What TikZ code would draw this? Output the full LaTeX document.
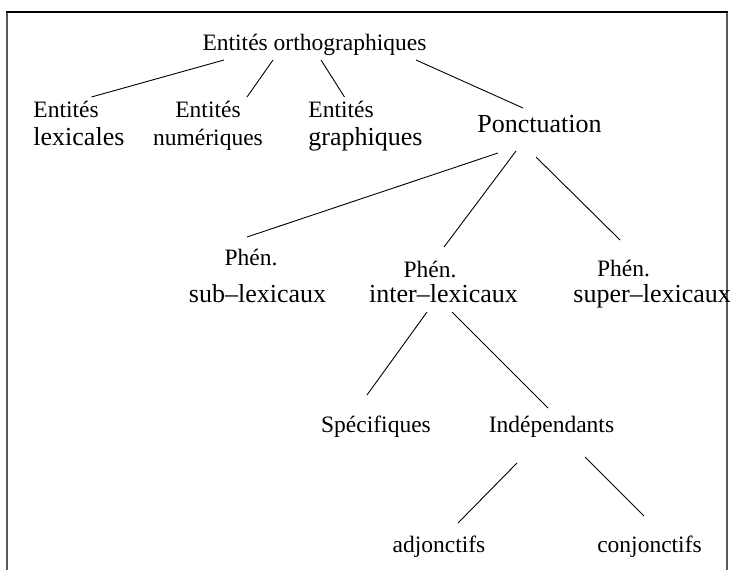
\documentclass[tikz,border=0pt]{standalone}
\usepackage{fontspec}
\setmainfont{Liberation Serif}
\newcommand{\tsm}{\fontsize{23.5}{28}\selectfont}
\newcommand{\tlg}{\fontsize{26}{31}\selectfont}
\tikzset{lbl/.style={inner sep=0pt,anchor=base}}

\begin{document}
\begin{tikzpicture}[x=1pt,y=-1pt,line width=0.9pt]
   \useasboundingbox (0,0) rectangle (731,570);
   \draw[line width=1.8pt,black!65] (7,570) -- (7,12.6);
   \draw[line width=1.8pt,black!65] (727,570) -- (727,12.6);
   \draw[line width=1.3pt] (6.1,12) -- (727.9,12);
   % first level
   \node[lbl] (root) at (314.5,50) {\tsm Entités orthographiques};
   \node[lbl,anchor=base west] (lexA) at (33,117) {\tsm Entités};
   \node[lbl,anchor=base west] (lexB) at (33,145) {\tlg lexicales};
   \node[lbl] (numA) at (208,117) {\tsm Entités};
   \node[lbl] (numB) at (208,145) {\tsm numériques};
   \node[lbl,anchor=base west] (graA) at (308,117) {\tsm Entités};
   \node[lbl,anchor=base west] (graB) at (308,145) {\tlg graphiques};
   \node[lbl] (ponc) at (539.5,132) {\tlg Ponctuation};
   % second level
   \node[lbl] (subA) at (251,265) {\tsm Phén.};
   \node[lbl] (subB) at (257.5,302) {\tlg sub--lexicaux};
   \node[lbl] (intA) at (430,277) {\tsm Phén.};
   \node[lbl] (intB) at (443.5,302) {\tlg inter--lexicaux};
   \node[lbl] (supA) at (623.5,276) {\tsm Phén.};
   \node[lbl,anchor=base west] (supB) at (573,302) {\tlg super--lexicaux};
   % third level
   \node[lbl] (spec) at (376,432) {\tsm Spécifiques};
   \node[lbl] (indep) at (551.5,432) {\tsm Indépendants};
   \node[lbl] (adj) at (439,552) {\tsm adjonctifs};
   \node[lbl] (conj) at (649.5,552) {\tsm conjonctifs};
   % connectors
   \draw ([shift={(-90.5,10)}]root.base) -- ([shift={(25.4,-20)}]lexA.base);
   \draw ([shift={(-41.5,10)}]root.base) -- ([shift={(39,-20)}]numA.base);
   \draw ([shift={(6.5,10)}]root.base)   -- ([shift={(3.4,-20)}]graA.base);
   \draw ([shift={(101.5,10)}]root.base) -- ([shift={(-16.5,-24)}]ponc.base);
   \draw ([shift={(-41.5,21)}]ponc.base) -- ([shift={(-4,-28)}]subA.base);
   \draw ([shift={(-23.5,19)}]ponc.base) -- ([shift={(14,-30)}]intA.base);
   \draw ([shift={(-3.5,25)}]ponc.base)  -- ([shift={(-3.5,-36)}]supA.base);
   \draw ([shift={(-16.5,10)}]intB.base) -- ([shift={(-9,-37)}]spec.base);
   \draw ([shift={(8.5,10)}]intB.base)   -- ([shift={(-3.5,-24)}]indep.base);
   \draw ([shift={(-34.5,31)}]indep.base) -- ([shift={(19,-29)}]adj.base);
   \draw ([shift={(33.5,25)}]indep.base)  -- ([shift={(-5.5,-36)}]conj.base);
\end{tikzpicture}
\end{document}
